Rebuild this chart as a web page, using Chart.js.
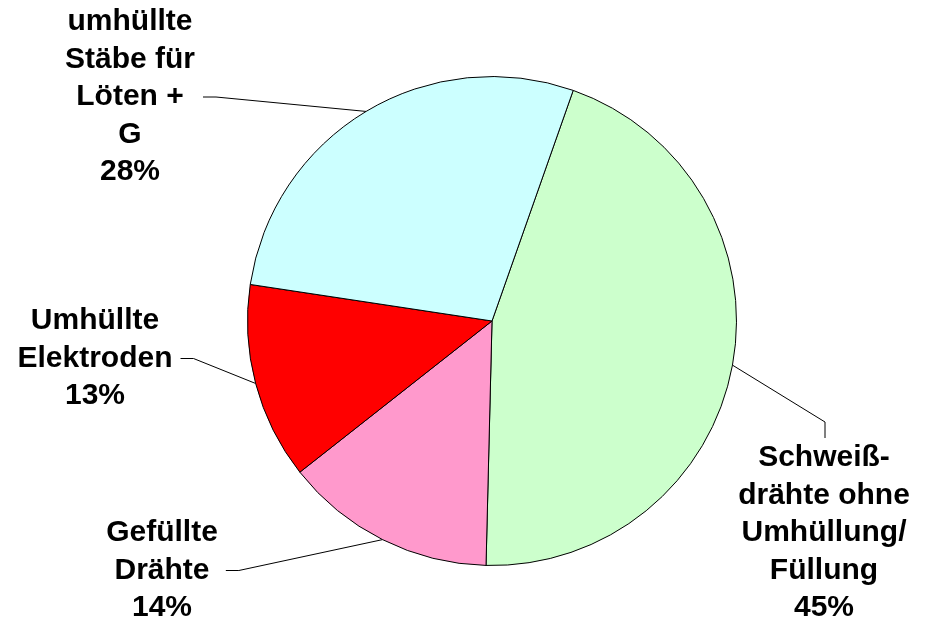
<!DOCTYPE html>
<html>
<head>
<meta charset="utf-8">
<script src="https://cdn.jsdelivr.net/npm/chart.js@4/dist/chart.umd.min.js"></script>
<style>
  html, body { margin: 0; padding: 0; background: #fff; }
  #wrap { width: 928px; height: 624px; }
</style>
</head>
<body>
<div id="wrap"><canvas id="pieChart"></canvas></div>
<script>
// categories, shares (percent) and the wrapped label text for each slice
var categories = ['Schweißdrähte ohne Umhüllung/Füllung', 'Gefüllte Drähte', 'Umhüllte Elektroden', 'umhüllte Stäbe für Löten + G'];
var shares = [45, 14, 13, 28];
var labelLines = [
  ['Schweiß-', 'drähte ohne', 'Umhüllung/', 'Füllung'],
  ['Gefüllte', 'Drähte'],
  ['Umhüllte', 'Elektroden'],
  ['umhüllte', 'Stäbe für', 'Löten +', 'G']
];
var sliceColors = ['#CCFFCC', '#FF99CC', '#FF0000', '#CCFFFF'];

// where each label block sits; 'side' tells how the leader line meets it
var labelPlace = [
  { x: 824, y: 458, side: 'top' },
  { x: 162, y: 533, side: 'right', line: 1 },
  { x: 95,  y: 321, side: 'right', line: 1 },
  { x: 130, y: 22,  side: 'right', line: 2 }
];

var labelFont = 'bold 30px "Liberation Sans", Arial, sans-serif';
var lineH = 37.5;

// draws the outside labels and their leader lines
var sliceLabels = {
  id: 'sliceLabels',
  afterDatasetsDraw: function(chart) {
    var ctx = chart.ctx;
    var arcs = chart.getDatasetMeta(0).data;
    ctx.save();
    ctx.font = labelFont;
    ctx.fillStyle = '#000';
    ctx.strokeStyle = '#000';
    ctx.lineWidth = 1;
    ctx.textAlign = 'center';
    ctx.textBaseline = 'middle';
    arcs.forEach(function(arc, i) {
      var p = arc.getProps(['x', 'y', 'startAngle', 'endAngle', 'outerRadius'], true);
      var mid = (p.startAngle + p.endAngle) / 2;
      var ax = p.x + Math.cos(mid) * p.outerRadius;
      var ay = p.y + Math.sin(mid) * p.outerRadius;
      var lines = labelLines[i].concat([shares[i] + '%']);
      var pl = labelPlace[i];
      var widest = 0;
      lines.forEach(function(t) { widest = Math.max(widest, ctx.measureText(t).width); });

      ctx.beginPath();
      if (pl.side === 'top') {
        var ty = pl.y - 20;
        ctx.moveTo(ax, ay);
        ctx.lineTo(pl.x + 1, ty - 16);
        ctx.lineTo(pl.x + 1, ty);
      } else {
        var ly = pl.y + pl.line * lineH;
        var sx = pl.x + widest / 2 + 8;
        ctx.moveTo(sx, ly);
        ctx.lineTo(sx + 13, ly);
        ctx.lineTo(ax, ay);
      }
      ctx.stroke();

      lines.forEach(function(t, k) {
        ctx.fillText(t, pl.x, pl.y + k * lineH);
      });
    });
    ctx.restore();
  }
};

var ctx = document.getElementById('pieChart').getContext('2d');
var pieChart = new Chart(ctx, {
  type: 'pie',
  data: {
    labels: categories,
    datasets: [{
      data: shares,
      backgroundColor: sliceColors,
      borderColor: '#000',
      borderWidth: 1
    }]
  },
  options: {
    responsive: true,
    maintainAspectRatio: false,
    animation: false,
    rotation: 19.4,
    layout: { padding: { top: 76, bottom: 58, left: 56, right: 0 } },
    plugins: {
      legend: { display: false },
      tooltip: { enabled: false }
    }
  },
  plugins: [sliceLabels]
});
</script>
</body>
</html>
